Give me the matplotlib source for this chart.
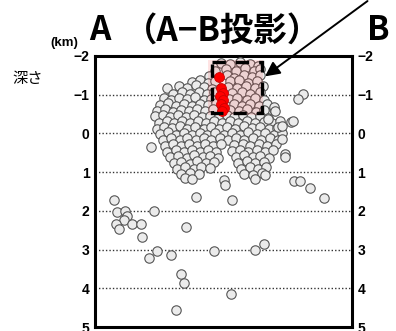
import matplotlib
matplotlib.use("Agg")
import matplotlib.pyplot as plt
from matplotlib.patches import Rectangle

# hypocentres projected on the A-B section: (distance km, depth km)
CLUSTER = [
    (3.28, -1.82), (3.52, -1.78), (3.78, -1.84), (4.02, -1.79), (4.24, -1.75),
    (3.12, -1.62), (3.40, -1.66), (3.66, -1.61), (3.90, -1.68), (4.14, -1.60), (4.30, -1.66),
    (2.95, -1.47), (3.42, -1.50), (3.62, -1.44), (3.86, -1.52), (4.08, -1.46), (4.28, -1.50),
    (2.52, -1.33), (2.74, -1.38), (2.94, -1.30), (3.12, -1.36), (3.50, -1.34), (3.74, -1.38),
    (3.98, -1.31), (4.22, -1.36),
    (1.88, -1.18), (2.18, -1.22), (2.40, -1.16), (2.62, -1.24), (2.84, -1.19), (3.04, -1.15),
    (3.46, -1.20), (3.70, -1.17), (3.92, -1.23), (4.16, -1.18), (4.36, -1.22),
    (2.02, -1.03), (2.26, -1.08), (2.48, -1.02), (2.70, -1.07), (2.92, -1.01), (3.10, -1.06),
    (3.56, -1.04), (3.82, -1.08), (4.04, -1.02), (4.28, -1.06),
    (1.80, -0.92), (1.98, -0.86), (2.18, -0.91), (2.40, -0.88), (2.60, -0.93), (2.82, -0.86),
    (3.02, -0.90), (3.48, -0.88), (3.70, -0.92), (3.94, -0.87), (4.16, -0.91), (4.40, -0.86),
    (1.70, -0.73), (1.90, -0.78), (2.10, -0.72), (2.32, -0.77), (2.52, -0.71), (2.72, -0.76),
    (2.94, -0.73), (3.14, -0.78), (3.40, -0.72), (3.60, -0.76), (3.82, -0.71), (4.04, -0.77),
    (4.26, -0.72), (4.48, -0.75),
    (1.62, -0.58), (1.82, -0.62), (2.02, -0.56), (2.24, -0.61), (2.44, -0.57), (2.64, -0.63),
    (2.86, -0.58), (3.06, -0.62), (3.30, -0.56), (3.52, -0.61), (3.74, -0.57), (3.96, -0.62),
    (4.18, -0.56), (4.40, -0.60), (4.66, -0.62),
    (1.56, -0.44), (1.76, -0.48), (1.96, -0.42), (2.16, -0.47), (2.36, -0.43), (2.56, -0.48),
    (2.78, -0.42), (2.98, -0.46), (3.20, -0.41), (3.42, -0.47), (3.62, -0.43), (3.84, -0.48),
    (4.06, -0.42), (4.28, -0.46), (4.50, -0.40),
    (1.66, -0.28), (1.86, -0.33), (2.06, -0.27), (2.26, -0.32), (2.46, -0.26), (2.68, -0.31),
    (2.88, -0.27), (3.10, -0.33), (3.30, -0.28), (3.52, -0.32), (3.72, -0.27), (3.94, -0.31),
    (4.16, -0.26), (4.38, -0.30), (4.60, -0.27), (4.80, -0.32),
    (1.60, -0.12), (1.80, -0.17), (2.00, -0.13), (2.20, -0.18), (2.40, -0.11), (2.60, -0.16),
    (2.82, -0.12), (3.02, -0.17), (3.22, -0.11), (3.44, -0.16), (3.64, -0.12), (3.86, -0.18),
    (4.08, -0.13), (4.30, -0.17), (4.52, -0.11), (4.72, -0.15),
    (1.70, 0.02), (1.90, -0.03), (2.10, 0.03), (2.30, -0.02), (2.52, 0.04), (2.72, -0.01),
    (2.92, 0.03), (3.12, -0.02), (3.34, 0.04), (3.56, -0.01), (3.76, 0.03), (3.98, -0.03),
    (4.20, 0.02), (4.42, -0.02), (4.64, 0.03), (4.86, 0.00),
    (1.76, 0.17), (1.98, 0.13), (2.20, 0.18), (2.40, 0.12), (2.62, 0.17), (2.82, 0.13),
    (3.02, 0.18), (3.24, 0.12), (3.46, 0.17), (3.66, 0.13), (3.88, 0.18), (4.10, 0.12),
    (4.32, 0.17), (4.54, 0.13), (4.76, 0.16),
    (1.82, 0.32), (2.02, 0.28), (2.24, 0.33), (2.44, 0.27), (2.66, 0.32), (2.86, 0.28),
    (3.06, 0.33), (3.28, 0.27), (3.62, 0.31), (3.84, 0.27), (4.04, 0.33), (4.26, 0.28),
    (4.48, 0.32), (4.70, 0.28),
    (1.88, 0.47), (2.10, 0.43), (2.30, 0.48), (2.52, 0.42), (2.72, 0.47), (2.94, 0.43),
    (3.14, 0.48), (3.56, 0.46), (3.78, 0.42), (3.98, 0.47), (4.20, 0.43), (4.42, 0.48), (4.62, 0.44),
    (1.96, 0.62), (2.16, 0.58), (2.38, 0.63), (2.58, 0.57), (2.80, 0.62), (3.00, 0.58),
    (3.20, 0.63), (3.66, 0.61), (3.88, 0.57), (4.10, 0.62), (4.30, 0.58), (4.52, 0.63),
    (2.04, 0.77), (2.24, 0.73), (2.46, 0.78), (2.66, 0.72), (2.88, 0.77), (3.08, 0.74),
    (3.72, 0.76), (3.94, 0.72), (4.16, 0.77), (4.38, 0.73),
    (2.12, 0.92), (2.34, 0.88), (2.56, 0.93), (2.76, 0.87), (2.98, 0.90),
    (3.80, 0.91), (4.02, 0.87), (4.24, 0.92), (4.44, 0.88),
    (2.24, 1.06), (2.46, 1.02), (2.70, 1.05), (3.86, 1.04), (4.10, 1.07), (4.34, 1.02),
    (2.35, 1.16), (2.52, 1.19), (4.16, 1.18), (4.41, 1.08),
]

SCATTERED = [
    (0.49, 1.72), (0.58, 2.03), (0.79, 2.00), (0.84, 2.14), (0.75, 2.24), (0.55, 2.34),
    (0.62, 2.46), (0.97, 2.33), (1.20, 2.33), (1.54, 2.00), (1.22, 2.67), (1.61, 3.04),
    (1.40, 3.23), (1.97, 3.15), (2.37, 2.43), (2.24, 3.62), (2.30, 3.86), (2.10, 4.55),
    (2.63, 1.64), (3.57, 1.72), (3.10, 3.04), (4.15, 3.02), (4.39, 2.86), (3.53, 4.16),
    (3.36, 1.21), (3.38, 1.32), (5.16, 1.24), (5.34, 1.22), (5.58, 1.40), (5.95, 1.66),
    (4.95, 0.52), (4.93, 0.60), (4.86, 0.15), (4.76, -0.16), (5.09, -0.30), (1.46, 0.34),
    (5.41, -1.02), (5.28, -0.89), (4.66, -0.69), (4.69, -0.59), (4.50, -0.37), (5.15, -0.31),
    (4.85, -0.18),
]

# recent events (red)
RECENT = [
    (3.23, -1.46), (3.28, -1.16), (3.32, -1.05), (3.26, -0.96),
    (3.33, -0.86), (3.28, -0.76), (3.34, -0.66), (3.30, -0.58),
]

DEPTH_TICKS = [-2, -1, 0, 1, 2, 3, 4, 5]
GRID_DEPTHS = [-1, 0, 1, 2, 3, 4]
# A-B projection box (x0, x1, top depth, bottom depth)
BOX = (3.04, 4.34, -1.85, -0.53)
SHADE = (2.94, 4.36, -1.90, -0.48)

plt.rcParams["font.family"] = ["Noto Sans CJK JP", "DejaVu Sans"]

fig = plt.figure(figsize=(3.96, 3.31), dpi=100)
ax = fig.add_axes([0.240, 0.012, 0.649, 0.819])

for d in GRID_DEPTHS:
    ax.axhline(d, color="#333333", lw=1.0, ls=(0, (1, 1.5)), zorder=1)

gx, gy = zip(*(CLUSTER + SCATTERED))
ax.scatter(gx, gy, s=46, facecolor="#ebebeb", edgecolor="#555555", lw=0.8, zorder=3)

ax.add_patch(Rectangle((SHADE[0], SHADE[2]), SHADE[1] - SHADE[0], SHADE[3] - SHADE[2],
                       facecolor="#ff4040", alpha=0.14, lw=0, zorder=4))
rx, ry = zip(*RECENT)
ax.scatter(rx, ry, s=50, facecolor="#ff0000", edgecolor="#cc0000", lw=0.6, zorder=5)
ax.add_patch(Rectangle((BOX[0], BOX[2]), BOX[1] - BOX[0], BOX[3] - BOX[2],
                       fill=False, edgecolor="black", lw=2.4, ls=(0, (4, 3)), zorder=6))

ax.annotate("", xy=(4.36, -1.43), xytext=(7.14, -3.46), annotation_clip=False,
            arrowprops=dict(arrowstyle="-|>", color="black", lw=1.4, mutation_scale=22))

ax.set_xlim(0, 6.68)
ax.set_ylim(5, -2)
ax.set_xticks([])
ax.set_yticks(DEPTH_TICKS)
ax.set_yticklabels(["\u2212" + str(-t) if t < 0 else str(t) for t in DEPTH_TICKS],
                   fontfamily="Liberation Sans", fontweight="bold", fontsize=10)
ax.tick_params(axis="y", length=0, pad=4, labelright=True, right=False)
for s in ax.spines.values():
    s.set_linewidth(2.2)

fig.text(64 / 396, 1 - 43 / 331, "(km)", ha="center", va="center", fontsize=9.5,
         fontweight="bold", family="Liberation Sans")
fig.text(100 / 396, 1 - 31 / 331, "A", ha="center", va="center", fontsize=24, fontweight="bold")
fig.text(222 / 396, 1 - 31 / 331, "（A\u2212B投影）", ha="center", va="center",
         fontsize=24, fontweight="bold")
fig.text(378 / 396, 1 - 31 / 331, "B", ha="center", va="center", fontsize=24, fontweight="bold")
fig.text(28 / 396, 1 - 78 / 331, "深さ", ha="center", va="center", fontsize=11)

fig.savefig("out.png", dpi=100)
